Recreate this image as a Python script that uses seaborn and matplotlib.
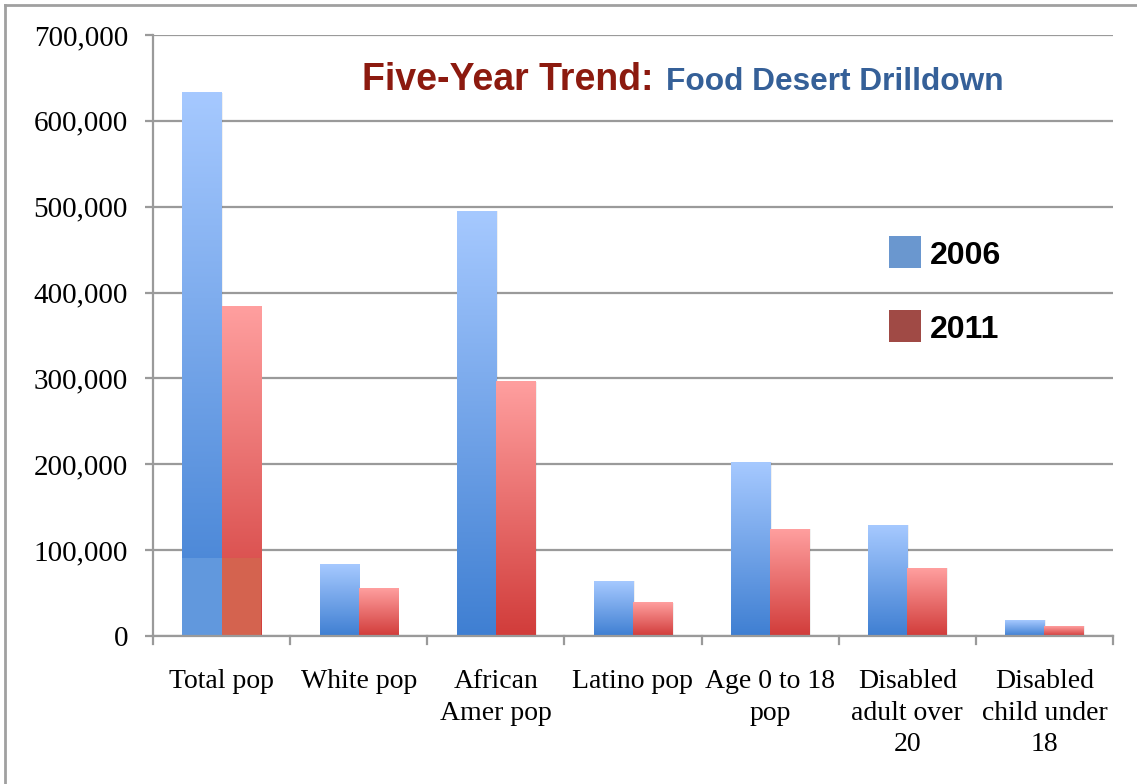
import numpy as np
import pandas as pd
import matplotlib
matplotlib.use("Agg")
import matplotlib.pyplot as plt
import seaborn as sns
from matplotlib.colors import LinearSegmentedColormap
from matplotlib.lines import Line2D
from matplotlib.patches import Rectangle

# ---- data ----
categories = ["Total pop", "White pop", "African\nAmer pop", "Latino pop",
              "Age 0 to 18\npop", "Disabled\nadult over\n20", "Disabled\nchild under\n18"]
years = ["2006", "2011"]
pop_2006 = [633000, 83000, 495000, 64000, 202500, 129000, 18500]
pop_2011 = [384000, 55000, 296000, 38500, 124500, 79000, 11500]
y_ticks = [0, 100000, 200000, 300000, 400000, 500000, 600000, 700000]

df = pd.DataFrame({
    "category": categories * 2,
    "year": [years[0]] * len(categories) + [years[1]] * len(categories),
    "population": pop_2006 + pop_2011,
})

W, H = 1137, 784
fig = plt.figure(figsize=(W / 100, H / 100), dpi=100)
ax = fig.add_axes([153 / W, 1 - 636 / H, (1113 - 153) / W, (636 - 35) / H])

sns.barplot(data=df, x="category", y="population", hue="year", order=categories,
            hue_order=years, palette=["#6a97cf", "#a04a45"], width=0.57, gap=0,
            legend=False, ax=ax)

ax.set_xlim(-0.5, len(categories) - 0.5)
ax.set_ylim(0, 700000)

# gradient fills for each bar (light on top, saturated at the bottom)
grad_cmaps = {
    "2006": LinearSegmentedColormap.from_list("b", ["#3f7fd2", "#a6c9ff"]),
    "2011": LinearSegmentedColormap.from_list("r", ["#d13c3a", "#ff9f9f"]),
}
flat_low = {"2006": "#6198dd", "2011": "#d4634f"}
grad = np.linspace(0, 1, 256).reshape(-1, 1)
n = len(categories)
for i, patch in enumerate(ax.patches[:2 * n]):
    yr = years[i // n]
    x0, w, h = patch.get_x(), patch.get_width(), patch.get_height()
    patch.set_facecolor("none")
    patch.set_edgecolor("none")
    # soft shadow
    ax.add_patch(Rectangle((x0 + 0.012, 0), w, h, facecolor="#000000", alpha=0.06,
                           edgecolor="none", zorder=2))
    ax.imshow(grad, cmap=grad_cmaps[yr], origin="lower", aspect="auto",
              extent=[x0, x0 + w, 0, h], zorder=3, interpolation="bilinear")
    if i % n == 0:
        # lighter flat band at the foot of the tallest group
        ax.add_patch(Rectangle((x0, 0), w, min(h, 91000), facecolor=flat_low[yr],
                               edgecolor="none", zorder=3.5))

ax.set_xlim(-0.5, len(categories) - 0.5)
ax.set_ylim(0, 700000)

# ---- axes styling ----
ax.set_xlabel("")
ax.set_ylabel("")
for s in ["top", "right"]:
    ax.spines[s].set_visible(False)
for s in ["left", "bottom"]:
    ax.spines[s].set_color("#9a9a9a")
    ax.spines[s].set_linewidth(1.6)
    ax.spines[s].set_zorder(5)

ax.set_yticks(y_ticks)
ax.set_yticklabels([f"{v:,}" for v in y_ticks])
ax.yaxis.grid(True, color="#9a9a9a", linewidth=1.6, zorder=1)
ax.set_axisbelow(True)

serif = "Liberation Serif"
ax.tick_params(axis="y", length=6, width=1.6, color="#9a9a9a", pad=12,
               labelsize=21, labelfontfamily=serif)
ax.set_xticks(np.arange(n))
ax.set_xticklabels(categories, fontsize=20, family=serif, linespacing=1.33, va="top")
ax.tick_params(axis="x", length=0, pad=24)
# category separators on the baseline
for b in np.arange(-0.5, n, 1.0):
    ax.add_line(Line2D([b, b], [0, -9500], color="#9a9a9a", linewidth=1.6,
                       clip_on=False, zorder=5))

# ---- title ----
fig.canvas.draw()
r = fig.canvas.get_renderer()
t1 = fig.text(362 / W, 1 - 90 / H, "Five-Year Trend:", color="#8c1a0f",
              fontsize=27, fontweight="bold", family="Liberation Sans",
              ha="left", va="baseline")
bb = t1.get_window_extent(renderer=r)
fig.text((bb.x1 + 13) / W, 1 - 90 / H, "Food Desert Drilldown", color="#356098",
         fontsize=22.8, fontweight="bold", family="Liberation Sans",
         ha="left", va="baseline")

# ---- legend ----
for yr, color, ytop in [("2006", "#6a97cf", 236), ("2011", "#a04a45", 310)]:
    fig.add_artist(Rectangle((889 / W, 1 - (ytop + 32) / H), 32 / W, 32 / H,
                             transform=fig.transFigure, facecolor=color,
                             edgecolor="none"))
    fig.text(930 / W, 1 - (ytop + 16) / H, yr, fontsize=23, fontweight="bold",
             family="Liberation Sans", color="black", ha="left", va="center_baseline")

# outer frame (top and left edges)
fig.add_artist(Line2D([5 / W, 5 / W], [0, 1 - 5 / H], transform=fig.transFigure,
                      color="#a0a0a0", linewidth=2))
fig.add_artist(Line2D([5 / W, 1], [1 - 5 / H, 1 - 5 / H], transform=fig.transFigure,
                      color="#a0a0a0", linewidth=2))

fig.savefig("out.png", dpi=100, facecolor="white")
